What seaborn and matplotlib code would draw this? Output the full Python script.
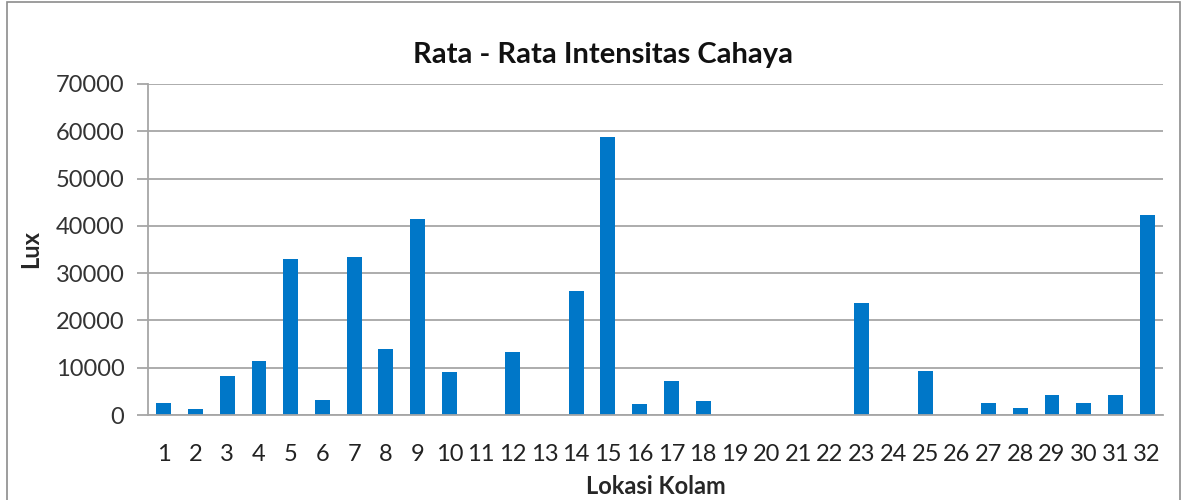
import matplotlib
matplotlib.use("Agg")
import matplotlib.pyplot as plt
import matplotlib.patches as mpatches
import seaborn as sns
import pandas as pd

# data
lokasi = [str(i) for i in range(1, 33)]
lux = [2500, 1200, 8300, 11500, 33000, 3100, 33400, 13900,
       41500, 9100, 0, 13400, 0, 26200, 58700, 2300,
       7200, 2900, 0, 0, 0, 0, 23700, 0,
       9400, 0, 2600, 1500, 4200, 2600, 4200, 42400]
yticks = [0, 10000, 20000, 30000, 40000, 50000, 60000, 70000]

df = pd.DataFrame({"Lokasi Kolam": lokasi, "Lux": lux})

sns.set_theme(style="white")
plt.rcParams["font.family"] = ["Lato", "DejaVu Sans"]

fig = plt.figure(figsize=(11.87, 5.0), dpi=100)
ax = fig.add_axes([148 / 1187, 1 - 415 / 500, (1163 - 148) / 1187, (415 - 84) / 500])

sns.barplot(data=df, x="Lokasi Kolam", y="Lux", color="#0077C8",
            width=0.47, saturation=1, linewidth=0, ax=ax)

ax.set_ylim(0, 70000)
ax.set_xlim(-0.5, len(lokasi) - 0.5)
ax.set_yticks(yticks)
ax.set_yticklabels([str(v) for v in yticks], fontsize=17, color="#333333")
ax.tick_params(axis="x", labelsize=17, labelcolor="#222222", length=0, pad=21)
ax.tick_params(axis="y", length=8, width=1.3, color="#A6A6A6", pad=9, left=True)
ax.yaxis.grid(True, color="#A6A6A6", linewidth=1.3)
ax.set_axisbelow(True)

for s in ["top", "right"]:
    ax.spines[s].set_visible(False)
for s in ["left", "bottom"]:
    ax.spines[s].set_color("#A6A6A6")
    ax.spines[s].set_linewidth(1.3)

fig.suptitle("Rata - Rata Intensitas Cahaya", x=603 / 1187, y=1 - 63 / 500,
             va="baseline", fontsize=21, fontweight="bold", color="#111111")
ax.set_xlabel("Lokasi Kolam", fontsize=17, fontweight="bold", labelpad=7)
ax.set_ylabel("Lux", fontsize=17, fontweight="bold", labelpad=10)

# chart border like the spreadsheet frame
fig.patches.append(mpatches.Rectangle((7 / 1187, -0.1), (1180 - 7) / 1187, 1.1 - 2 / 500,
                                      transform=fig.transFigure, fill=False,
                                      edgecolor="#8C8C8C", linewidth=1.2))

fig.savefig("out.png", dpi=100)
